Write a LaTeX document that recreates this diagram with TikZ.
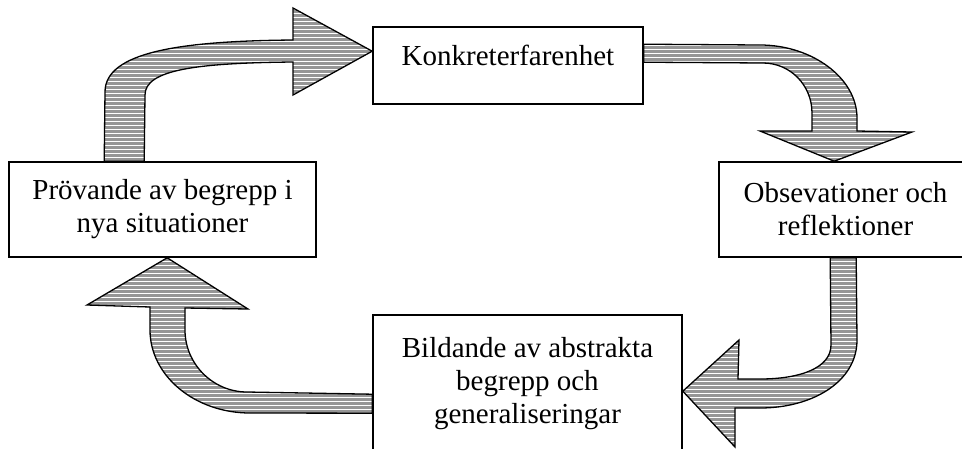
\documentclass[tikz,border=0pt]{standalone}
\usepackage{fontspec}
\setmainfont{Liberation Serif}
\usetikzlibrary{calc}
\definecolor{arrowgray}{RGB}{150,150,150}

\begin{document}
\begin{tikzpicture}[x=1pt, y=-1pt,
    box/.style={draw, line width=1.6pt, inner sep=0pt, align=center,
                font=\fontsize{29}{33}\selectfont},
    blockarrow/.style={draw, line width=1.3pt, fill=arrowgray,
                path picture={\foreach \ly in {1.5,5.5,...,448}
                  \draw[white, line width=1pt] (0,\ly) -- (962,\ly);}}]
    \useasboundingbox (0,0) rectangle (962,448);
    % the four stages of the cycle
    \node[box, minimum width=270pt, minimum height=77pt, text height=11pt, text depth=11pt]
         (konk) at (508,65.5) {Konkreterfarenhet};
    \node[box, minimum width=253pt, minimum height=95pt]
         (obs) at (845.5,209.5) {Obsevationer och\\reflektioner};
    \node[box, minimum width=309pt, minimum height=137pt]
         (bild) at (527.5,383.5) {Bildande av abstrakta\\begrepp och\\generaliseringar};
    \node[box, minimum width=307pt, minimum height=95pt]
         (prov) at (162.5,209.5) {Prövande av begrepp i\\nya situationer};
    % block arrows, clockwise
    \draw[blockarrow] ($(prov.north west)+(96,0)$) -- (105,92)
        .. controls (105,52) and (180,41) .. (293,40) -- (293,8)
        -- ($(konk.north west)+(0,25)$) -- (293,95) -- (293,62)
        .. controls (195,63) and (145,70) .. (145,95)
        -- ($(prov.north west)+(136,0)$) -- cycle;
    \draw[blockarrow] ($(konk.north east)+(0,18)$) -- (760,45)
        .. controls (812,45) and (857,78) .. (857,118) -- (857,131) -- (912,132)
        -- ($(obs.north west)+(116,0)$) -- (760,131) -- (812,131) -- (812,113)
        .. controls (812,85) and (790,63) .. (763,63)
        -- ($(konk.north east)+(0,36)$) -- cycle;
    \draw[blockarrow] ($(obs.south west)+(138,0)$) -- (857,340)
        .. controls (857,382) and (812,408) .. (760,408) -- (735,408) -- (735,447)
        -- ($(bild.north east)+(0,77)$) -- (739,340) -- (738,379) -- (760,379)
        .. controls (800,379) and (831,368) .. (831,345)
        -- ($(obs.south west)+(112,0)$) -- cycle;
    \draw[blockarrow] ($(bild.north west)+(0,99)$) -- (250,413)
        .. controls (195,413) and (150,376) .. (150,330) -- (150,307) -- (87,305)
        -- ($(prov.south west)+(159,0)$) -- (248,309) -- (185,308) -- (185,330)
        .. controls (185,364) and (213,392) .. (247,392)
        -- ($(bild.north west)+(0,80)$) -- cycle;
\end{tikzpicture}
\end{document}
